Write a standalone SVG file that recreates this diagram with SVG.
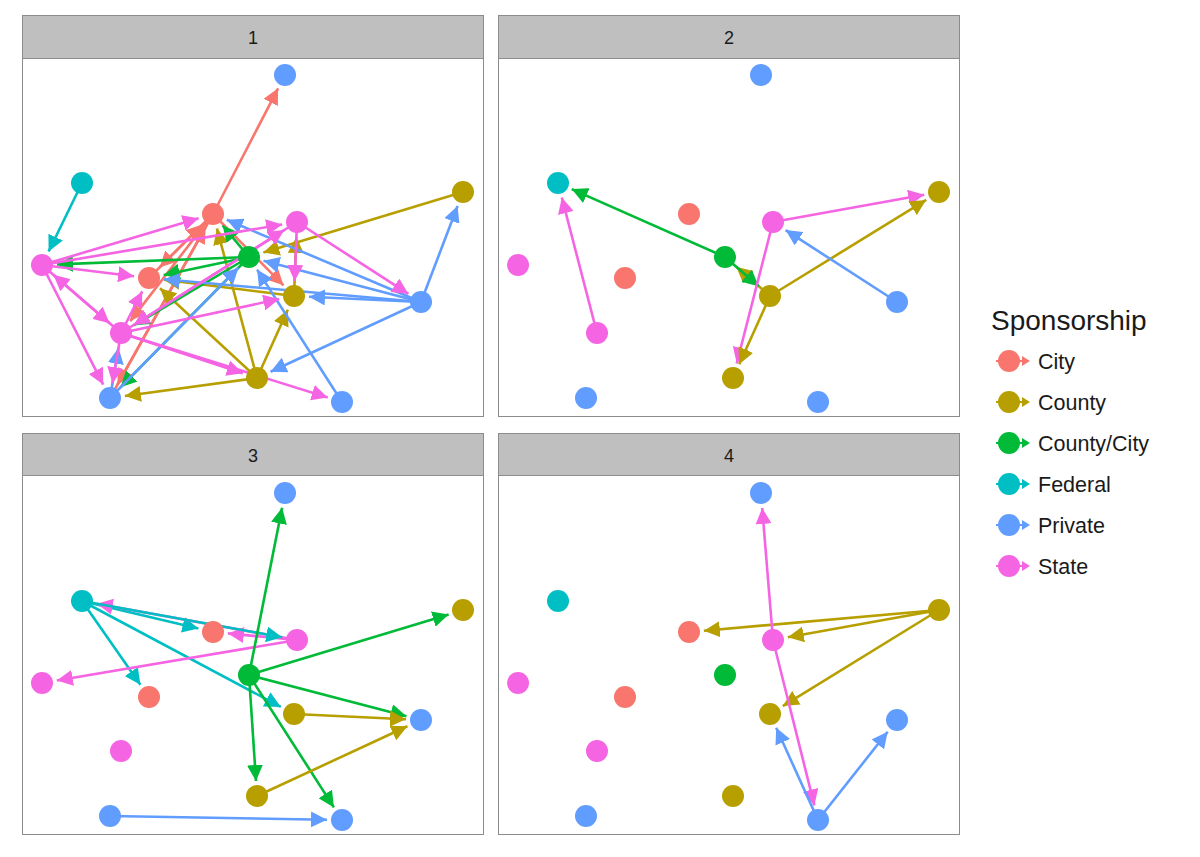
<svg xmlns="http://www.w3.org/2000/svg" width="1200" height="857" viewBox="0 0 1200 857">
<style>
text{font-family:"Liberation Sans",Arial,sans-serif;fill:#1a1a1a}
.strip{fill:#BFBFBF;stroke:#8C8C8C;stroke-width:1}
.panel{fill:#FFFFFF;stroke:#8C8C8C;stroke-width:1}
.slab{font-size:18px;text-anchor:middle}
#edges line{stroke-width:2.6;fill:none}
.ec{stroke:#F8766D;marker-end:url(#m-city)}
.eo{stroke:#B79F00;marker-end:url(#m-county)}
.eg{stroke:#00BA38;marker-end:url(#m-cc)}
.et{stroke:#00BFC4;marker-end:url(#m-fed)}
.eb{stroke:#619CFF;marker-end:url(#m-priv)}
.ep{stroke:#F564E3;marker-end:url(#m-state)}
.nc{fill:#F8766D}.no{fill:#B79F00}.ng{fill:#00BA38}.nt{fill:#00BFC4}.nb{fill:#619CFF}.np{fill:#F564E3}
.leg{font-size:21.5px}
</style>
<defs>
<marker id="m-city" viewBox="0 0 16 16" refX="16" refY="8" markerWidth="16" markerHeight="16" markerUnits="userSpaceOnUse" orient="auto"><path d="M0,0 L16,8 L0,16 z" fill="#F8766D"/></marker>
<marker id="m-county" viewBox="0 0 16 16" refX="16" refY="8" markerWidth="16" markerHeight="16" markerUnits="userSpaceOnUse" orient="auto"><path d="M0,0 L16,8 L0,16 z" fill="#B79F00"/></marker>
<marker id="m-cc" viewBox="0 0 16 16" refX="16" refY="8" markerWidth="16" markerHeight="16" markerUnits="userSpaceOnUse" orient="auto"><path d="M0,0 L16,8 L0,16 z" fill="#00BA38"/></marker>
<marker id="m-fed" viewBox="0 0 16 16" refX="16" refY="8" markerWidth="16" markerHeight="16" markerUnits="userSpaceOnUse" orient="auto"><path d="M0,0 L16,8 L0,16 z" fill="#00BFC4"/></marker>
<marker id="m-priv" viewBox="0 0 16 16" refX="16" refY="8" markerWidth="16" markerHeight="16" markerUnits="userSpaceOnUse" orient="auto"><path d="M0,0 L16,8 L0,16 z" fill="#619CFF"/></marker>
<marker id="m-state" viewBox="0 0 16 16" refX="16" refY="8" markerWidth="16" markerHeight="16" markerUnits="userSpaceOnUse" orient="auto"><path d="M0,0 L16,8 L0,16 z" fill="#F564E3"/></marker>
</defs>
<rect x="0" y="0" width="1200" height="857" fill="#FFFFFF"/>
<g id="panels">
<rect class="strip" x="22.5" y="15.5" width="461" height="43"/>
<rect class="panel" x="22.5" y="58.5" width="461" height="358"/>
<text class="slab" x="253" y="44">1</text>
<rect class="strip" x="498.5" y="15.5" width="461" height="43"/>
<rect class="panel" x="498.5" y="58.5" width="461" height="358"/>
<text class="slab" x="729" y="44">2</text>
<rect class="strip" x="22.5" y="433.5" width="461" height="42"/>
<rect class="panel" x="22.5" y="475.5" width="461" height="359"/>
<text class="slab" x="253" y="462">3</text>
<rect class="strip" x="498.5" y="433.5" width="461" height="42"/>
<rect class="panel" x="498.5" y="475.5" width="461" height="359"/>
<text class="slab" x="729" y="462">4</text>
</g>
<g id="edges">
<!-- panel 1 -->
<line class="ec" x1="213" y1="214" x2="278.1" y2="88.3"/>
<line class="ec" x1="213" y1="214" x2="283.5" y2="285.3"/>
<line class="ec" x1="149" y1="278" x2="202.4" y2="224.6"/>
<line class="ec" x1="213" y1="214" x2="159.6" y2="267.4"/>
<line class="ec" x1="110" y1="398" x2="205.7" y2="227.1"/>
<line class="ec" x1="213" y1="214" x2="117.3" y2="384.9"/>
<line class="ec" x1="213" y1="214" x2="130.2" y2="321.1"/>
<line class="eo" x1="463" y1="192" x2="263.4" y2="252.6"/>
<line class="eo" x1="257" y1="378" x2="124.9" y2="396"/>
<line class="eo" x1="257" y1="378" x2="287.8" y2="309.7"/>
<line class="eo" x1="257" y1="378" x2="216.9" y2="228.5"/>
<line class="eo" x1="257" y1="378" x2="160" y2="288.2"/>
<line class="eo" x1="294" y1="296" x2="296.4" y2="237"/>
<line class="eo" x1="294" y1="296" x2="163.9" y2="279.8"/>
<line class="eg" x1="249" y1="257" x2="57" y2="264.4"/>
<line class="eg" x1="249" y1="257" x2="222.6" y2="225.5"/>
<line class="eg" x1="249" y1="257" x2="163.7" y2="274.9"/>
<line class="eg" x1="249" y1="257" x2="133.9" y2="325.3"/>
<line class="eg" x1="249" y1="257" x2="120.5" y2="387.3"/>
<line class="et" x1="82" y1="183" x2="48.6" y2="251.5"/>
<line class="eb" x1="421" y1="302" x2="457.6" y2="206"/>
<line class="eb" x1="421" y1="302" x2="309" y2="296.7"/>
<line class="eb" x1="421" y1="302" x2="263.5" y2="260.8"/>
<line class="eb" x1="421" y1="302" x2="226.8" y2="219.8"/>
<line class="eb" x1="421" y1="302" x2="270.6" y2="371.7"/>
<line class="eb" x1="421" y1="302" x2="163.9" y2="279.3"/>
<line class="eb" x1="342" y1="402" x2="257.1" y2="269.6"/>
<line class="eb" x1="110" y1="398" x2="118.5" y2="347.8"/>
<line class="eb" x1="110" y1="398" x2="238.5" y2="267.7"/>
<line class="ep" x1="297" y1="222" x2="408.4" y2="293.9"/>
<line class="ep" x1="297" y1="222" x2="294.6" y2="281"/>
<line class="ep" x1="297" y1="222" x2="133.7" y2="325"/>
<line class="ep" x1="42" y1="265" x2="198.6" y2="218.3"/>
<line class="ep" x1="42" y1="265" x2="282.2" y2="224.5"/>
<line class="ep" x1="42" y1="265" x2="134.1" y2="276.2"/>
<line class="ep" x1="42" y1="265" x2="109.6" y2="323.2"/>
<line class="ep" x1="121" y1="333" x2="53.4" y2="274.8"/>
<line class="ep" x1="42" y1="265" x2="103.2" y2="384.6"/>
<line class="ep" x1="121" y1="333" x2="112.5" y2="383.2"/>
<line class="ep" x1="121" y1="333" x2="142.2" y2="291.4"/>
<line class="ep" x1="121" y1="333" x2="284.3" y2="230"/>
<line class="ep" x1="121" y1="333" x2="279.3" y2="299.1"/>
<line class="ep" x1="121" y1="333" x2="242.8" y2="373.3"/>
<line class="ep" x1="121" y1="333" x2="327.7" y2="397.5"/>
<!-- panel 2 -->
<line class="ep" x1="773" y1="222" x2="924.2" y2="194.7"/>
<line class="eo" x1="770" y1="296" x2="926.2" y2="199.9"/>
<line class="eb" x1="897" y1="302" x2="785.6" y2="230.1"/>
<line class="ep" x1="597" y1="333" x2="561.8" y2="197.5"/>
<line class="eg" x1="725" y1="257" x2="571.7" y2="189.1"/>
<line class="eo" x1="770" y1="296" x2="736.3" y2="266.8"/>
<line class="eg" x1="725" y1="257" x2="758.7" y2="286.2"/>
<line class="ep" x1="773" y1="222" x2="736.7" y2="363.5"/>
<line class="eo" x1="770" y1="296" x2="739.2" y2="364.3"/>
<!-- panel 3 -->
<line class="et" x1="82" y1="601" x2="198.4" y2="628.5"/>
<line class="ep" x1="297" y1="640" x2="96.8" y2="603.7"/>
<line class="ep" x1="297" y1="640" x2="227.9" y2="633.4"/>
<line class="et" x1="82" y1="601" x2="282.2" y2="637.3"/>
<line class="et" x1="82" y1="601" x2="140.4" y2="684.7"/>
<line class="et" x1="82" y1="601" x2="280.8" y2="706.9"/>
<line class="ep" x1="297" y1="640" x2="56.8" y2="680.5"/>
<line class="eg" x1="249" y1="675" x2="282.1" y2="507.7"/>
<line class="eg" x1="249" y1="675" x2="448.6" y2="614.4"/>
<line class="eg" x1="249" y1="675" x2="406.5" y2="716.2"/>
<line class="eg" x1="249" y1="675" x2="256" y2="781"/>
<line class="eg" x1="249" y1="675" x2="333.9" y2="807.4"/>
<line class="eo" x1="294" y1="714" x2="406" y2="719.3"/>
<line class="eo" x1="257" y1="796" x2="407.4" y2="726.3"/>
<line class="eb" x1="110" y1="816" x2="327" y2="819.7"/>
<!-- panel 4 -->
<line class="eo" x1="939" y1="610" x2="703.9" y2="630.7"/>
<line class="eo" x1="939" y1="610" x2="787.8" y2="637.3"/>
<line class="eo" x1="939" y1="610" x2="782.8" y2="706.1"/>
<line class="ep" x1="773" y1="640" x2="762.2" y2="508"/>
<line class="ep" x1="773" y1="640" x2="814.4" y2="805.4"/>
<line class="eb" x1="818" y1="820" x2="776.2" y2="727.7"/>
<line class="eb" x1="818" y1="820" x2="887.7" y2="731.8"/>
</g>
<g id="nodes">
<g id="p1-a"><circle class="nb" cx="285" cy="75" r="11"/></g>
<g id="p1-b"><circle class="nt" cx="82" cy="183" r="11"/></g>
<g id="p1-c"><circle class="nc" cx="213" cy="214" r="11"/></g>
<g id="p1-d"><circle class="np" cx="297" cy="222" r="11"/></g>
<g id="p1-e"><circle class="no" cx="463" cy="192" r="11"/></g>
<g id="p1-f"><circle class="np" cx="42" cy="265" r="11"/></g>
<g id="p1-g"><circle class="ng" cx="249" cy="257" r="11"/></g>
<g id="p1-h"><circle class="nc" cx="149" cy="278" r="11"/></g>
<g id="p1-i"><circle class="no" cx="294" cy="296" r="11"/></g>
<g id="p1-j"><circle class="nb" cx="421" cy="302" r="11"/></g>
<g id="p1-k"><circle class="np" cx="121" cy="333" r="11"/></g>
<g id="p1-l"><circle class="no" cx="257" cy="378" r="11"/></g>
<g id="p1-m"><circle class="nb" cx="110" cy="398" r="11"/></g>
<g id="p1-n"><circle class="nb" cx="342" cy="402" r="11"/></g>
<g id="p2-a"><circle class="nb" cx="761" cy="75" r="11"/></g>
<g id="p2-b"><circle class="nt" cx="558" cy="183" r="11"/></g>
<g id="p2-c"><circle class="nc" cx="689" cy="214" r="11"/></g>
<g id="p2-d"><circle class="np" cx="773" cy="222" r="11"/></g>
<g id="p2-e"><circle class="no" cx="939" cy="192" r="11"/></g>
<g id="p2-f"><circle class="np" cx="518" cy="265" r="11"/></g>
<g id="p2-g"><circle class="ng" cx="725" cy="257" r="11"/></g>
<g id="p2-h"><circle class="nc" cx="625" cy="278" r="11"/></g>
<g id="p2-i"><circle class="no" cx="770" cy="296" r="11"/></g>
<g id="p2-j"><circle class="nb" cx="897" cy="302" r="11"/></g>
<g id="p2-k"><circle class="np" cx="597" cy="333" r="11"/></g>
<g id="p2-l"><circle class="no" cx="733" cy="378" r="11"/></g>
<g id="p2-m"><circle class="nb" cx="586" cy="398" r="11"/></g>
<g id="p2-n"><circle class="nb" cx="818" cy="402" r="11"/></g>
<g id="p3-a"><circle class="nb" cx="285" cy="493" r="11"/></g>
<g id="p3-b"><circle class="nt" cx="82" cy="601" r="11"/></g>
<g id="p3-c"><circle class="nc" cx="213" cy="632" r="11"/></g>
<g id="p3-d"><circle class="np" cx="297" cy="640" r="11"/></g>
<g id="p3-e"><circle class="no" cx="463" cy="610" r="11"/></g>
<g id="p3-f"><circle class="np" cx="42" cy="683" r="11"/></g>
<g id="p3-g"><circle class="ng" cx="249" cy="675" r="11"/></g>
<g id="p3-h"><circle class="nc" cx="149" cy="697" r="11"/></g>
<g id="p3-i"><circle class="no" cx="294" cy="714" r="11"/></g>
<g id="p3-j"><circle class="nb" cx="421" cy="720" r="11"/></g>
<g id="p3-k"><circle class="np" cx="121" cy="751" r="11"/></g>
<g id="p3-l"><circle class="no" cx="257" cy="796" r="11"/></g>
<g id="p3-m"><circle class="nb" cx="110" cy="816" r="11"/></g>
<g id="p3-n"><circle class="nb" cx="342" cy="820" r="11"/></g>
<g id="p4-a"><circle class="nb" cx="761" cy="493" r="11"/></g>
<g id="p4-b"><circle class="nt" cx="558" cy="601" r="11"/></g>
<g id="p4-c"><circle class="nc" cx="689" cy="632" r="11"/></g>
<g id="p4-d"><circle class="np" cx="773" cy="640" r="11"/></g>
<g id="p4-e"><circle class="no" cx="939" cy="610" r="11"/></g>
<g id="p4-f"><circle class="np" cx="518" cy="683" r="11"/></g>
<g id="p4-g"><circle class="ng" cx="725" cy="675" r="11"/></g>
<g id="p4-h"><circle class="nc" cx="625" cy="697" r="11"/></g>
<g id="p4-i"><circle class="no" cx="770" cy="714" r="11"/></g>
<g id="p4-j"><circle class="nb" cx="897" cy="720" r="11"/></g>
<g id="p4-k"><circle class="np" cx="597" cy="751" r="11"/></g>
<g id="p4-l"><circle class="no" cx="733" cy="796" r="11"/></g>
<g id="p4-m"><circle class="nb" cx="586" cy="816" r="11"/></g>
<g id="p4-n"><circle class="nb" cx="818" cy="820" r="11"/></g>
</g>
<g id="legend">
<text x="991" y="330" style="font-size:28px">Sponsorship</text>
<g id="leg-city"><line x1="996" y1="361" x2="1024" y2="361" stroke="#F8766D" stroke-width="2"/><polygon points="1022,356 1030,361 1022,366" fill="#F8766D"/><circle class="nc" cx="1009" cy="361" r="11"/><text class="leg" x="1038" y="368.5">City</text></g>
<g id="leg-county"><line x1="996" y1="402" x2="1024" y2="402" stroke="#B79F00" stroke-width="2"/><polygon points="1022,397 1030,402 1022,407" fill="#B79F00"/><circle class="no" cx="1009" cy="402" r="11"/><text class="leg" x="1038" y="409.5">County</text></g>
<g id="leg-cc"><line x1="996" y1="443" x2="1024" y2="443" stroke="#00BA38" stroke-width="2"/><polygon points="1022,438 1030,443 1022,448" fill="#00BA38"/><circle class="ng" cx="1009" cy="443" r="11"/><text class="leg" x="1038" y="450.5">County/City</text></g>
<g id="leg-fed"><line x1="996" y1="484" x2="1024" y2="484" stroke="#00BFC4" stroke-width="2"/><polygon points="1022,479 1030,484 1022,489" fill="#00BFC4"/><circle class="nt" cx="1009" cy="484" r="11"/><text class="leg" x="1038" y="491.5">Federal</text></g>
<g id="leg-priv"><line x1="996" y1="525" x2="1024" y2="525" stroke="#619CFF" stroke-width="2"/><polygon points="1022,520 1030,525 1022,530" fill="#619CFF"/><circle class="nb" cx="1009" cy="525" r="11"/><text class="leg" x="1038" y="532.5">Private</text></g>
<g id="leg-state"><line x1="996" y1="566" x2="1024" y2="566" stroke="#F564E3" stroke-width="2"/><polygon points="1022,561 1030,566 1022,571" fill="#F564E3"/><circle class="np" cx="1009" cy="566" r="11"/><text class="leg" x="1038" y="573.5">State</text></g>
</g>
</svg>
